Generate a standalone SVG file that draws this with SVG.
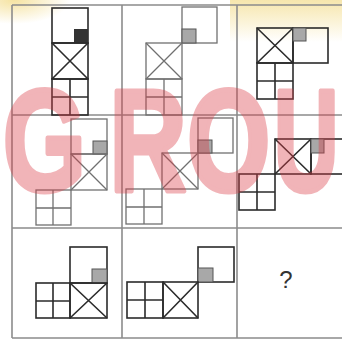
<svg xmlns="http://www.w3.org/2000/svg" width="342" height="340" viewBox="0 0 342 340">
<defs>
<style>
.grid{stroke:#8c8c8c;stroke-width:1.6;fill:none}
.f{stroke:#2b2b2b;stroke-width:1.6;fill:none}
.fl{stroke:#707070;stroke-width:1.3;fill:none}
.gs{fill:#a8a8a8;stroke:#555;stroke-width:1}
.wm{font-family:"Liberation Sans",Arial,sans-serif;font-weight:bold;font-size:145px;fill:#dc3c46;stroke:#dc3c46;stroke-width:5;stroke-linejoin:round;text-anchor:middle}
</style>
<linearGradient id="yel" x1="0" y1="0" x2="0" y2="1">
<stop offset="0" stop-color="#f3dc8a" stop-opacity="0.7"/>
<stop offset="1" stop-color="#f3dc8a" stop-opacity="0"/>
</linearGradient>
<radialGradient id="yel2" cx="0.2" cy="0" r="0.8">
<stop offset="0" stop-color="#f3dc8a" stop-opacity="0.8"/>
<stop offset="1" stop-color="#f3dc8a" stop-opacity="0"/>
</radialGradient>
</defs>
<rect width="342" height="340" fill="#ffffff"/>
<rect x="0" y="0" width="70" height="30" fill="url(#yel2)"/>
<rect x="230" y="0" width="112" height="42" fill="url(#yel)"/>
<g id="grid">
<path class="grid" d="M12 5H342M12 115H342M12 228H342M12 338H342M12 5V338M122 5V338M237 5V338"/>
</g>
<g id="cell1">
<rect class="f" x="52" y="8" width="36" height="35"/>
<rect x="74" y="29" width="14" height="14" fill="#333"/>
<rect class="f" x="52" y="43" width="36" height="36"/>
<path class="f" d="M52 43L88 79M88 43L52 79"/>
<rect class="f" x="52" y="79" width="36" height="36"/>
<path class="f" d="M70 79V115M52 97H88"/>
</g>
<g id="cell2">
<rect class="fl" x="182" y="7" width="35" height="36"/>
<rect class="gs" x="182" y="29" width="14" height="14"/>
<rect class="fl" x="146" y="43" width="36" height="36"/>
<path class="fl" d="M146 43L182 79M182 43L146 79"/>
<rect class="fl" x="146" y="79" width="36" height="36"/>
<path class="fl" d="M164 79V115M146 97H182"/>
</g>
<g id="cell3">
<rect class="f" x="257" y="28" width="36" height="35"/>
<path class="f" d="M257 28L293 63M293 28L257 63"/>
<rect class="f" x="293" y="28" width="35" height="35"/>
<rect class="gs" x="293" y="28" width="13" height="13"/>
<rect class="f" x="257" y="63" width="36" height="36"/>
<path class="f" d="M275 63V99M257 81H293"/>
</g>
<g id="cell4">
<rect class="fl" x="71" y="119" width="36" height="35"/>
<rect class="gs" x="93" y="141" width="14" height="13"/>
<rect class="fl" x="71" y="154" width="36" height="36"/>
<path class="fl" d="M71 154L107 190M107 154L71 190"/>
<rect class="fl" x="36" y="190" width="35" height="35"/>
<path class="fl" d="M53 190V225M36 208H71"/>
</g>
<g id="cell5">
<rect class="fl" x="198" y="118" width="35" height="35"/>
<rect class="gs" x="198" y="140" width="14" height="13"/>
<rect class="fl" x="162" y="153" width="36" height="36"/>
<path class="fl" d="M162 153L198 189M198 153L162 189"/>
<rect class="fl" x="126" y="189" width="36" height="35"/>
<path class="fl" d="M144 189V224M126 207H162"/>
</g>
<g id="cell6">
<rect class="f" x="275" y="139" width="36" height="35"/>
<path class="f" d="M275 139L311 174M311 139L275 174"/>
<rect class="f" x="311" y="139" width="36" height="35"/>
<rect class="gs" x="311" y="139" width="13" height="14"/>
<rect class="f" x="239" y="174" width="36" height="36"/>
<path class="f" d="M257 174V210M239 192H275"/>
</g>
<g id="cell7">
<rect class="f" x="70" y="247" width="37" height="36"/>
<rect class="gs" x="92" y="269" width="15" height="14"/>
<rect class="f" x="70" y="283" width="37" height="35"/>
<path class="f" d="M70 283L107 318M107 283L70 318"/>
<rect class="f" x="36" y="283" width="34" height="35"/>
<path class="f" d="M53 283V318M36 301H70"/>
</g>
<g id="cell8">
<rect class="f" x="198" y="247" width="36" height="35"/>
<rect class="gs" x="198" y="268" width="15" height="14"/>
<rect class="f" x="163" y="282" width="35" height="36"/>
<path class="f" d="M163 282L198 318M198 282L163 318"/>
<rect class="f" x="127" y="282" width="36" height="36"/>
<path class="f" d="M145 282V318M127 300H163"/>
</g>
<g id="cell9">
<text x="286" y="288" font-family="Liberation Sans, Arial, sans-serif" font-size="24" fill="#333" text-anchor="middle">?</text>
</g>
<g id="watermark" opacity="0.38">
<g transform="scale(0.74,1)">
<text class="wm" x="60" y="191">G</text>
<text class="wm" x="200" y="191">R</text>
<text class="wm" x="309" y="191">O</text>
</g>
<g transform="scale(0.62,1)">
<text class="wm" x="494" y="191">U</text>
</g>
</g>
</svg>
